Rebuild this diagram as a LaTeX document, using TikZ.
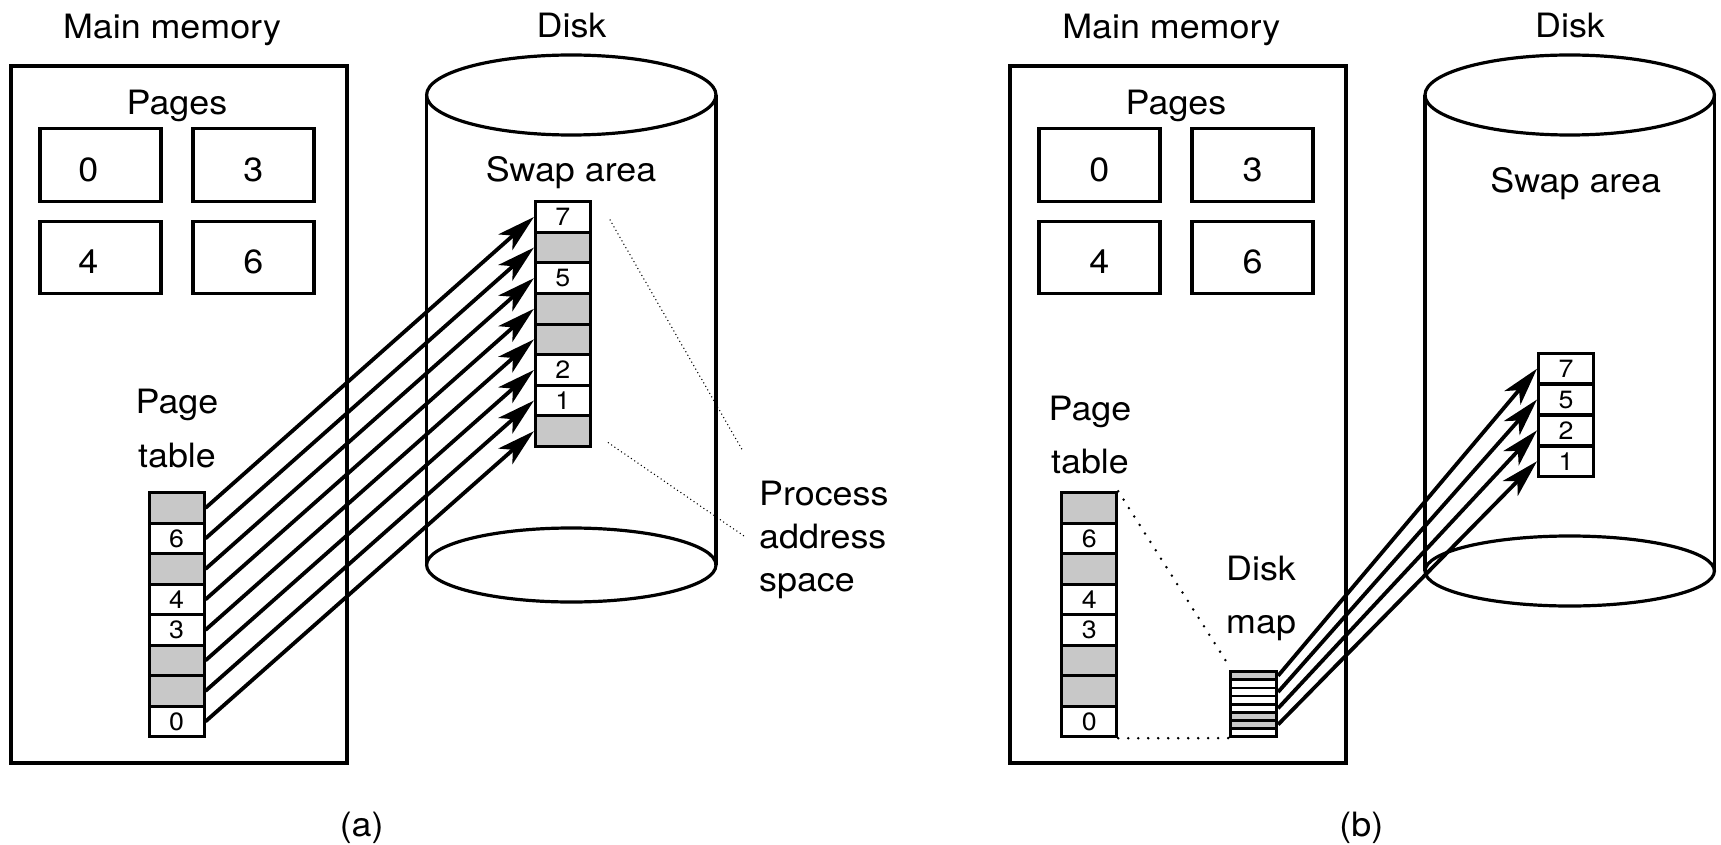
\documentclass[tikz,border=0pt]{standalone}
\usepackage{fontspec}
\setmainfont{TeX Gyre Heros}[FakeStretch=1.07]
\usetikzlibrary{arrows.meta}
\definecolor{cellgray}{RGB}{200,200,200}
\begin{document}
\begin{tikzpicture}[x=1pt,y=-1pt,
  lw/.style={line width=3.4pt},
  biglab/.style={font=\fontsize{33.5}{40}\selectfont, inner sep=0pt},
  celllab/.style={font=\fontsize{25}{30}\selectfont},
  membox/.style={draw, lw, minimum width=336pt, minimum height=697pt, inner sep=0pt},
  pagebox/.style={draw, lw, minimum width=121pt, minimum height=72.5pt, inner sep=0pt},
  cell/.style={draw, line width=3pt, fill=white, minimum width=55pt, minimum height=30.5pt, inner sep=0pt, celllab},
  gcell/.style={cell, fill=cellgray},
  mapcell/.style={draw, line width=2.8pt, fill=white, minimum width=46pt, minimum height=8.125pt, inner sep=0pt},
  gmapcell/.style={mapcell, fill=cellgray},
  arr/.style={line width=3.8pt, -{Stealth[length=38pt,width=21pt,inset=10pt]}},
  fdots/.style={line width=1.5pt, line cap=round, dash pattern=on 0pt off 4pt},
  bdots/.style={line width=2.8pt, line cap=round, dash pattern=on 0pt off 10pt},
  cyl/.style={line width=3.2pt}
]
\fill[white] (0,0) rectangle (1721,845);
\useasboundingbox (0,0) rectangle (1721,845);

% ================= (a) =================
% disk cylinder
\draw[cyl] (571.3,95) ellipse [x radius=144.7pt, y radius=40pt];
\draw[cyl] (571.3,565) ellipse [x radius=144.7pt, y radius=37pt];
\draw[cyl] (426.6,95) -- (426.6,565);
\draw[cyl] (716,95) -- (716,565);

\node[biglab, anchor=base] (mm1) at (172,39) {Main memory};
\node[biglab, anchor=base] (dk1) at (571.5,38) {Disk};
\node[membox] (mem1) at (179,414.35) {};
\node[biglab, anchor=base] (pg1) at (177,115) {Pages};
\node[pagebox] (pb1a) at (100.5,165) {};
\node[pagebox] (pb1b) at (253.5,165) {};
\node[pagebox] (pb1c) at (100.5,257.5) {};
\node[pagebox] (pb1d) at (253.5,257.5) {};
\node[biglab, anchor=base] (pd1a) at (88.3,181.5) {0};
\node[biglab, anchor=base] (pd1b) at (253.3,181.5) {3};
\node[biglab, anchor=base] (pd1c) at (88.3,273.5) {4};
\node[biglab, anchor=base] (pd1d) at (253.3,273.5) {6};
\node[biglab, anchor=base] (ptl1a) at (177,413) {Page};
\node[biglab, anchor=base] (ptl1b) at (177,467) {table};

% page table (a)
\node[gcell] (pt1-0) at (176.5,507.95) {};
\node[cell]  (pt1-1) at (176.5,538.45) {6};
\node[gcell] (pt1-2) at (176.5,568.95) {};
\node[cell]  (pt1-3) at (176.5,599.45) {4};
\node[cell]  (pt1-4) at (176.5,629.95) {3};
\node[gcell] (pt1-5) at (176.5,660.45) {};
\node[gcell] (pt1-6) at (176.5,690.95) {};
\node[cell]  (pt1-7) at (176.5,721.45) {0};

% swap area (a)
\node[biglab, anchor=base] (sa1) at (571,182) {Swap area};
\node[cell]  (sw1-0) at (562.9,217.0) {7};
\node[gcell] (sw1-1) at (562.9,247.6) {};
\node[cell]  (sw1-2) at (562.9,278.2) {5};
\node[gcell] (sw1-3) at (562.9,308.8) {};
\node[gcell] (sw1-4) at (562.9,339.4) {};
\node[cell]  (sw1-5) at (562.9,370.0) {2};
\node[cell]  (sw1-6) at (562.9,400.6) {1};
\node[gcell] (sw1-7) at (562.9,431.2) {};

\foreach \k in {0,...,7} {
  \draw[arr] (pt1-\k.east) -- (sw1-\k.west);
}

% process address space
\coordinate (pa1s) at (610,220);
\coordinate (pa1e) at (743.3,451.7);
\coordinate (pa2s) at (608.3,442.7);
\coordinate (pa2e) at (745,536.7);
\draw[fdots] (pa1s) -- (pa1e);
\draw[fdots] (pa2s) -- (pa2e);
\node[biglab, anchor=base west] (pas1) at (759,505) {Process};
\node[biglab, anchor=base west] (pas2) at (759,548.3) {address};
\node[biglab, anchor=base west] (pas3) at (759,591.7) {space};

\node[biglab, anchor=base] (capa) at (361.7,836) {(a)};

% ================= (b) =================
\draw[cyl] (1569.7,95) ellipse [x radius=144.7pt, y radius=40pt];
\draw[cyl] (1569.7,571) ellipse [x radius=144.7pt, y radius=35pt];
\draw[cyl] (1425,95) -- (1425,571);
\draw[cyl] (1714.4,95) -- (1714.4,571);

\node[biglab, anchor=base] (mm2) at (1171.3,39) {Main memory};
\node[biglab, anchor=base] (dk2) at (1570,38) {Disk};
\node[membox] (mem2) at (1178,414.35) {};
\node[biglab, anchor=base] (pg2) at (1176,115) {Pages};
\node[pagebox] (pb2a) at (1099.5,165) {};
\node[pagebox] (pb2b) at (1252.5,165) {};
\node[pagebox] (pb2c) at (1099.5,257.5) {};
\node[pagebox] (pb2d) at (1252.5,257.5) {};
\node[biglab, anchor=base] (pd2a) at (1099.3,181.5) {0};
\node[biglab, anchor=base] (pd2b) at (1252.5,181.5) {3};
\node[biglab, anchor=base] (pd2c) at (1099.3,273.5) {4};
\node[biglab, anchor=base] (pd2d) at (1252.5,273.5) {6};
\node[biglab, anchor=base] (ptl2a) at (1090,420) {Page};
\node[biglab, anchor=base] (ptl2b) at (1090,473) {table};

% page table (b)
\node[gcell] (pt2-0) at (1089.2,507.95) {};
\node[cell]  (pt2-1) at (1089.2,538.45) {6};
\node[gcell] (pt2-2) at (1089.2,568.95) {};
\node[cell]  (pt2-3) at (1089.2,599.45) {4};
\node[cell]  (pt2-4) at (1089.2,629.95) {3};
\node[gcell] (pt2-5) at (1089.2,660.45) {};
\node[gcell] (pt2-6) at (1089.2,690.95) {};
\node[cell]  (pt2-7) at (1089.2,721.45) {0};

% disk map
\node[biglab, anchor=base west] (dml1) at (1226,580) {Disk};
\node[biglab, anchor=base west] (dml2) at (1226,633) {map};
\node[gmapcell] (dm-0) at (1253.7,675.76) {};
\node[mapcell]  (dm-1) at (1253.7,683.89) {};
\node[mapcell]  (dm-2) at (1253.7,692.01) {};
\node[mapcell]  (dm-3) at (1253.7,700.14) {};
\node[mapcell]  (dm-4) at (1253.7,708.26) {};
\node[gmapcell] (dm-5) at (1253.7,716.39) {};
\node[gmapcell] (dm-6) at (1253.7,724.51) {};
\node[mapcell]  (dm-7) at (1253.7,732.64) {};

\coordinate (dmc1) at (1228.5,665);
\draw[bdots] (pt2-0.north east) -- (dmc1);
\draw[bdots] (pt2-7.south east) -- (dm-7.south west);

% swap area (b)
\node[biglab, anchor=base] (sa2) at (1575.7,193) {Swap area};
\node[cell] (sw2-0) at (1566,368.7) {7};
\node[cell] (sw2-1) at (1566,399.55) {5};
\node[cell] (sw2-2) at (1566,430.4) {2};
\node[cell] (sw2-3) at (1566,461.25) {1};

\draw[arr] (dm-0.east) -- (sw2-0.west);
\draw[arr] (dm-2.east) -- (sw2-1.west);
\draw[arr] (dm-4.east) -- (sw2-2.west);
\draw[arr] (dm-6.east) -- (sw2-3.west);

\node[biglab, anchor=base] (capb) at (1361.3,836) {(b)};
\end{tikzpicture}
\end{document}
